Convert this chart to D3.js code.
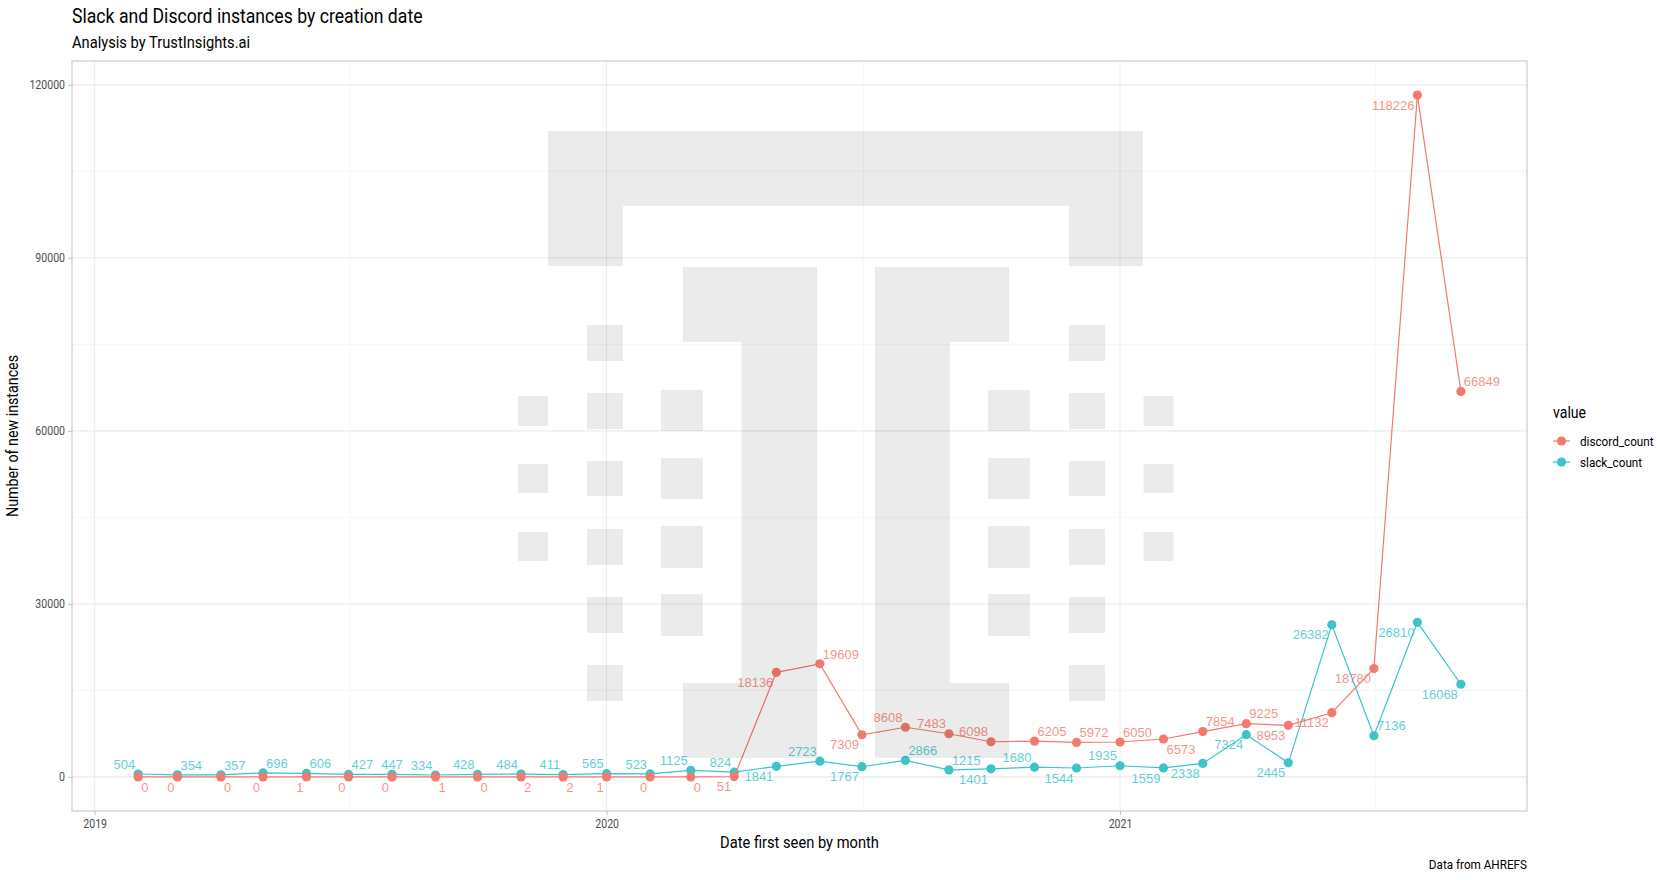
<!DOCTYPE html>
<html>
<head>
<meta charset="utf-8">
<script src="https://cdn.jsdelivr.net/npm/d3@7"></script>
<style>
	body { margin: 0; background: #fff; }
	svg text { font-family: Roboto, "Noto Sans", sans-serif; }
	.pt-label { font-family: "Liberation Sans", Arial, sans-serif !important; }
</style>
</head>
<body>
<div id="chart"></div>
<script>
const months = [
	"2019-02-01", "2019-03-01", "2019-04-01", "2019-05-01", "2019-06-01", "2019-07-01",
	"2019-08-01", "2019-09-01", "2019-10-01", "2019-11-01", "2019-12-01", "2020-01-01",
	"2020-02-01", "2020-03-01", "2020-04-01", "2020-05-01", "2020-06-01", "2020-07-01",
	"2020-08-01", "2020-09-01", "2020-10-01", "2020-11-01", "2020-12-01", "2021-01-01",
	"2021-02-01", "2021-03-01", "2021-04-01", "2021-05-01", "2021-06-01", "2021-07-01",
	"2021-08-01", "2021-09-01"
];
const slackCount = [
	504, 354, 357, 696, 606, 427, 447, 334, 428, 484, 411, 565,
	523, 1125, 824, 1841, 2723, 1767, 2866, 1215, 1401, 1680, 1544, 1935,
	1559, 2338, 7324, 2445, 26382, 7136, 26810, 16068
];
const discordCount = [
	0, 0, 0, 0, 1, 0, 0, 1, 0, 2, 2, 1,
	0, 0, 51, 18136, 19609, 7309, 8608, 7483, 6098, 6205, 5972, 6050,
	6573, 7854, 9225, 8953, 11132, 18780, 118226, 66849
];
// which corner of its point each label sits at (t = top, b = bottom, l = left, r = right)
const slackLabelSide = [
	"tl", "tr", "tr", "tr", "tr", "tr", "t", "tl", "tl", "tl", "tl", "tl",
	"tl", "tl", "tl", "bl", "tl", "bl", "tr", "tr", "bl", "tl", "bl", "tl",
	"bl", "bl", "bl", "bl", "bl", "tr", "bl", "bl"
];
const discordLabelSide = [
	"br", "bl", "br", "bl", "bl", "bl", "bl", "br", "br", "br", "br", "bl",
	"bl", "br", "bl", "bl", "tr", "bl", "tl", "tl", "tl", "tr", "tr", "tr",
	"br", "tr", "tr", "bl", "bl", "bl", "bl", "tr"
];
const seriesNames = ["discord_count", "slack_count"];
const seriesColors = ["#F27A6F", "#3CC4C9"];
const yTicks = [0, 30000, 60000, 90000, 120000];
const yMinorTicks = [15000, 45000, 75000, 105000];
const xTickLabels = ["2019", "2020", "2021"];
const xMinorTicks = ["2019-07-02", "2020-07-02", "2021-07-02"];

const w = 1661;
const h = 880;
const panel = { left: 72, right: 1527, top: 61, bottom: 811 };

const dates = months.map((m) => new Date(m + "T00:00:00Z"));

// Roboto Condensed is not installed, so squeeze Roboto
const condense = (sel, k) =>
	sel.each(function () {
		const len = this.getComputedTextLength();
		d3.select(this).attr("textLength", len * k).attr("lengthAdjust", "spacingAndGlyphs");
	});

const svg = d3
	.select("#chart")
	.append("svg")
	.attr("width", w)
	.attr("height", h);

// ggplot style 5% expansion
const xMin = d3.min(dates), xMax = d3.max(dates);
const xPad = (xMax - xMin) * 0.05;
const xScale = d3
	.scaleUtc()
	.domain([new Date(+xMin - xPad), new Date(+xMax + xPad)])
	.range([panel.left, panel.right]);

const yMaxVal = d3.max([...slackCount, ...discordCount]);
const yPad = yMaxVal * 0.05;
const yScale = d3
	.scaleLinear()
	.domain([-yPad, yMaxVal + yPad])
	.range([panel.bottom, panel.top]);

// grid
const grid = svg.append("g");
grid.selectAll(".ymin").data(yMinorTicks).enter().append("line")
	.attr("x1", panel.left).attr("x2", panel.right)
	.attr("y1", (d) => yScale(d)).attr("y2", (d) => yScale(d))
	.attr("stroke", "#F2F2F2").attr("stroke-width", 0.7);
grid.selectAll(".xmin").data(xMinorTicks).enter().append("line")
	.attr("x1", (d) => xScale(new Date(d + "T00:00:00Z"))).attr("x2", (d) => xScale(new Date(d + "T00:00:00Z")))
	.attr("y1", panel.top).attr("y2", panel.bottom)
	.attr("stroke", "#F2F2F2").attr("stroke-width", 0.7);
grid.selectAll(".ymaj").data(yTicks).enter().append("line")
	.attr("x1", panel.left).attr("x2", panel.right)
	.attr("y1", (d) => yScale(d)).attr("y2", (d) => yScale(d))
	.attr("stroke", "#EBEBEB").attr("stroke-width", 1.1);
grid.selectAll(".xmaj").data(xTickLabels).enter().append("line")
	.attr("x1", (d) => xScale(new Date(d + "-01-01T00:00:00Z"))).attr("x2", (d) => xScale(new Date(d + "-01-01T00:00:00Z")))
	.attr("y1", panel.top).attr("y2", panel.bottom)
	.attr("stroke", "#EBEBEB").attr("stroke-width", 1.1);

// axes
const yAxis = d3.axisLeft(yScale).tickValues(yTicks).tickSize(4).tickPadding(3).tickFormat(d3.format("d"));
const xAxis = d3.axisBottom(xScale)
	.tickValues(xTickLabels.map((y) => new Date(y + "-01-01T00:00:00Z")))
	.tickSize(4).tickPadding(4).tickFormat(d3.utcFormat("%Y"));

const gy = svg.append("g").attr("transform", `translate(${panel.left},0)`).call(yAxis);
const gx = svg.append("g").attr("transform", `translate(0,${panel.bottom})`).call(xAxis);
[gy, gx].forEach((g) => {
	g.select(".domain").remove();
	g.selectAll(".tick line").attr("stroke", "#C4C4C4").attr("stroke-width", 1);
	g.selectAll(".tick text").attr("fill", "#4D4D4D").style("font-size", "12px").call(condense, 0.88);
});

// series
const series = [
	{ name: seriesNames[1], values: slackCount, sides: slackLabelSide, color: seriesColors[1] },
	{ name: seriesNames[0], values: discordCount, sides: discordLabelSide, color: seriesColors[0] }
];
const line = d3.line().x((d, i) => xScale(dates[i])).y((d) => yScale(d));

series.forEach((s) => {
	svg.append("path")
		.datum(s.values)
		.attr("fill", "none")
		.attr("stroke", s.color)
		.attr("stroke-width", 1.2)
		.attr("d", line);
	svg.append("g").selectAll("circle").data(s.values).enter().append("circle")
		.attr("cx", (d, i) => xScale(dates[i]))
		.attr("cy", (d) => yScale(d))
		.attr("r", 4.6)
		.attr("fill", s.color);
});

// point labels
series.forEach((s) => {
	svg.append("g").selectAll("text").data(s.values).enter().append("text")
		.attr("class", "pt-label")
		.text((d) => d)
		.attr("x", (d, i) => {
			const side = s.sides[i];
			const px = xScale(dates[i]);
			if (side.includes("l")) return px - 3;
			if (side.includes("r")) return px + 3;
			return px;
		})
		.attr("y", (d, i) => yScale(d) + (s.sides[i].includes("t") ? -10 : 10))
		.attr("dy", "0.36em")
		.attr("text-anchor", (d, i) => {
			const side = s.sides[i];
			if (side.includes("l")) return "end";
			if (side.includes("r")) return "start";
			return "middle";
		})
		.attr("fill", s.color)
		.attr("fill-opacity", 0.82)
		.style("font-size", "13px");
});

// watermark logo, drawn over the panel contents
const logoRects = [
	[548, 131, 1143, 206], [548, 206, 623, 266], [1069, 206, 1143, 266],
	[683, 267, 817, 342], [741.5, 342, 817, 758], [683, 683, 741.5, 758],
	[875, 267, 1009, 342], [875, 342, 950, 758], [950, 683, 1009, 758]
];
const smallCols = [
	{ x: [518, 548], rows: [[396, 426], [464, 493], [532, 561]] },
	{ x: [587, 623], rows: [[325, 361], [393, 429], [461, 496], [529, 565], [597, 633], [665, 701]] },
	{ x: [661, 703], rows: [[390, 431], [458, 499], [526, 568], [594, 636]] },
	{ x: [988, 1030], rows: [[390, 431], [458, 499], [526, 568], [594, 636]] },
	{ x: [1069, 1105], rows: [[325, 361], [393, 429], [461, 496], [529, 565], [597, 633], [665, 701]] },
	{ x: [1143.5, 1173.5], rows: [[396, 426], [464, 493], [532, 561]] }
];
smallCols.forEach((c) => c.rows.forEach((r) => logoRects.push([c.x[0], r[0], c.x[1], r[1]])));
svg.append("g").selectAll("rect").data(logoRects).enter().append("rect")
	.attr("x", (d) => d[0]).attr("y", (d) => d[1])
	.attr("width", (d) => d[2] - d[0]).attr("height", (d) => d[3] - d[1])
	.attr("fill", "#000").attr("fill-opacity", 0.08);

// panel border
svg.append("rect")
	.attr("x", panel.left).attr("y", panel.top)
	.attr("width", panel.right - panel.left).attr("height", panel.bottom - panel.top)
	.attr("fill", "none").attr("stroke", "#CCCCCC").attr("stroke-width", 1.2);

// titles
svg.append("text").text("Slack and Discord instances by creation date")
	.attr("x", panel.left).attr("y", 23)
	.attr("fill", "#000").style("font-size", "20.5px").call(condense, 0.86);
svg.append("text").text("Analysis by TrustInsights.ai")
	.attr("x", panel.left).attr("y", 48)
	.attr("fill", "#000").style("font-size", "16.5px").call(condense, 0.89);
svg.append("text").text("Date first seen by month")
	.attr("x", (panel.left + panel.right) / 2).attr("y", 847.5)
	.attr("text-anchor", "middle").attr("fill", "#000")
	.style("font-size", "16.5px").call(condense, 0.89);
svg.append("text").text("Number of new instances")
	.attr("transform", `translate(17.5,${(panel.top + panel.bottom) / 2}) rotate(-90)`)
	.attr("text-anchor", "middle").attr("fill", "#000")
	.style("font-size", "16px").call(condense, 0.89);
svg.append("text").text("Data from AHREFS")
	.attr("x", panel.right).attr("y", 869)
	.attr("text-anchor", "end").attr("fill", "#000")
	.style("font-size", "13px").call(condense, 0.9);

// legend
const legend = svg.append("g").attr("transform", "translate(1553,0)");
legend.append("text").text("value")
	.attr("x", 0).attr("y", 418)
	.attr("fill", "#000").style("font-size", "16px").call(condense, 0.88);
const keys = legend.selectAll(".key").data(seriesNames).enter().append("g")
	.attr("transform", (d, i) => `translate(0,${441 + i * 21})`);
keys.append("line").attr("x1", 0).attr("x2", 17)
	.attr("stroke", (d, i) => seriesColors[i]).attr("stroke-width", 1.2);
keys.append("circle").attr("cx", 8.5).attr("r", 4.6)
	.attr("fill", (d, i) => seriesColors[i]);
keys.append("text").text((d) => d)
	.attr("x", 27).attr("dy", "0.36em")
	.attr("fill", "#000").style("font-size", "13px").call(condense, 0.9);
</script>
</body>
</html>
